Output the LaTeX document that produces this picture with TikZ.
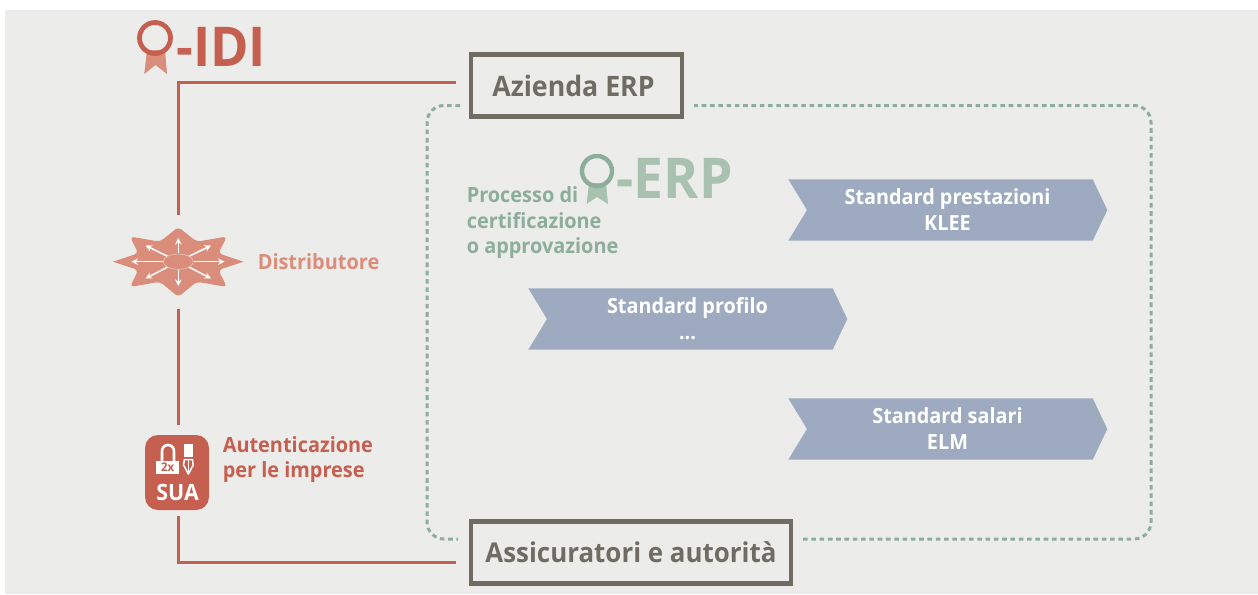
\documentclass[tikz,border=0pt]{standalone}
\usepackage{fontspec}
\setmainfont[FakeStretch=0.95]{Open Sans}
\usetikzlibrary{positioning}
\definecolor{bgGrey}{HTML}{ECECEA}
\definecolor{idiRed}{HTML}{C55F50}
\definecolor{idiLight}{HTML}{DB8D7B}
\definecolor{erpGreen}{HTML}{8CAE9A}
\definecolor{erpLight}{HTML}{A9C1AF}
\definecolor{boxGrey}{HTML}{6F6D63}
\definecolor{stdBlue}{HTML}{9DAABF}
\newcommand{\stddots}{...}
\tikzset{
  idiline/.style={idiRed, line width=3.3*0.711pt},
  erpframe/.style={erpGreen, line width=3*0.711pt, dash pattern=on 4.6*0.711pt off 3.7*0.711pt, rounded corners=17*0.025cm},
  actorbox/.style={draw=boxGrey, line width=4.6*0.711pt, inner sep=0pt, text=boxGrey},
  lbl/.style={inner sep=0pt, anchor=base west, align=left, font=\bfseries\fontsize{14.9pt}{18pt}\selectfont},
  stdtext/.style={inner sep=0pt, align=center, text=white, font=\bfseries\fontsize{14.85pt}{18pt}\selectfont},
  logotext/.style={inner sep=0pt, anchor=west},
  fan/.style={white, line width=1.5*0.711pt, -stealth},
}
\begin{document}
\begin{tikzpicture}[x=0.025cm, y=-0.025cm]
  \useasboundingbox (0,0) rectangle (1258,594);
  \fill[white] (0,0) rectangle (1258,594);
  \fill[bgGrey] (5,10) rectangle (1258,594);

  % boxes
  \node[actorbox, minimum width=211*0.025cm, minimum height=62*0.025cm, font=\bfseries\fontsize{20pt}{20pt}\selectfont] (azienda) at (576.5,85.5) {Azienda ERP\hspace*{0.15cm}};
  \node[actorbox, minimum width=320*0.025cm, minimum height=62*0.025cm, font=\bfseries\fontsize{19.4pt}{20pt}\selectfont] (assicuratori) at (631,552.5) {\raisebox{-1.2pt}{Assicuratori e autorità}};

  % dotted frame
  \draw[erpframe] (460,105.5) -- (427,105.5) -- (427,539) -- (458,539);
  \draw[erpframe] (803,539) -- (1151,539) -- (1151,105.5) -- (694,105.5);

  % IDI logo
  \fill[idiLight] (147,50) -- (165,50) -- (167,74) -- (155.5,65) -- (144.3,74) -- cycle;
  \draw[idiRed, line width=4.8*0.711pt] (155,38) circle (15.5);
  \node[logotext, text=idiRed, font=\bfseries\fontsize{39pt}{39pt}\selectfont] (idi) at (176,46.5) {-IDI};

  % ERP logo
  \fill[erpLight] (589,183) -- (606,183) -- (608,204) -- (597,197) -- (586.7,204) -- cycle;
  \draw[erpGreen, line width=4.4*0.711pt] (597,171) circle (15);
  \node[logotext, text=erpLight, font=\bfseries\fontsize{40pt}{40pt}\selectfont] (erp) at (616.5,178.5) {-ERP};
  \node[lbl, text=erpGreen] (processo) at (466.5,202.3) {Processo di};
  \node[lbl, text=erpGreen] (certificazione) at (466.5,228.3) {certificazione};
  \node[lbl, text=erpGreen] (approvazione) at (466.5,253.3) {o approvazione};

  % standards
  \foreach \dx/\dy/\name/\first/\second in {0/0/prestazioni/Standard prestazioni/KLEE, -260/109/profilo/Standard profilo/\stddots, 0/219/salari/Standard salari/ELM} {
    \fill[stdBlue] (788.3+\dx,179.3+\dy) -- ++(304.4,0) -- ++(14.6,30.7) -- ++(-14.6,30.7) -- ++(-304.4,0) -- ++(18.7,-30.7) -- cycle;
    \node[stdtext] (\name) at (947.5+\dx,209.5+\dy) {\first\\[0.1pt]\second};
  }

  % distributor star
  \node[inner sep=0pt, minimum width=130*0.025cm, minimum height=94*0.025cm] (star) at (178.5,262) {};
  \fill[idiLight, rounded corners=4*0.711pt] (243.5,261.7) -- (218.3,270) -- (227,287) -- (196.7,281.7) -- (178.3,297) -- (160,281.7) -- (130,287) -- (138.3,270) [sharp corners] -- (113,261.7) [rounded corners=4*0.711pt] -- (138.3,253.3) -- (130,236.5) -- (160,241.7) -- (178.3,227) -- (196.7,241.7) -- (227,236.5) -- (218.3,253.3) [sharp corners] -- cycle;
  \foreach \xa/\ya/\xb/\yb in {178.3/253/178.3/238, 178.3/270/178.3/286, 193.5/261.7/224.5/261.7, 163/261.7/131.5/261.7, 188.3/256.7/211/245.5, 168.3/256.7/145.5/245.5, 188.3/266.7/211/278.5, 168.3/266.7/145.5/278.5}
    \draw[fan] (\xa,\ya) -- (\xb,\yb);
  \draw[bgGrey!60!idiLight, line width=0.4pt, fill=idiLight] (178.3,261.7) ellipse (15 and 7.6);
  \node[lbl, text=idiLight] (distributore) at (257.5,269.3) {Distributore};

  % SUA icon
  \node[fill=idiRed, rounded corners=13*0.025cm, inner sep=0pt, minimum width=64*0.025cm, minimum height=75*0.025cm] (sua) at (177,472.5) {};
  \node[inner sep=0pt, text=white, font=\bfseries\fontsize{16pt}{16pt}\selectfont] (suatext) at (177.5,492) {SUA};
  \fill[white] (156.3,461.3) rectangle (179,473.7);
  \draw[white, line width=2.6*0.711pt] (162,462) -- (162,451) arc[start angle=180, end angle=360, radius=6] -- (174,462);
  \node[inner sep=0pt, text=idiRed, font=\bfseries\fontsize{8.5pt}{8.5pt}\selectfont] (zweix) at (167.7,467.5) {2x};
  \fill[white] (183.7,443.7) rectangle (193,457);
  \draw[white, line width=1.5*0.711pt, line join=round] (184.3,459.7) -- (192.5,459.7) -- (193.2,465) -- (188.4,474) -- (183.6,465) -- cycle;
  \draw[white, line width=1*0.711pt] (188.4,460) -- (188.4,473);
  \node[lbl, text=idiRed] (autenticazione) at (222.5,452.7) {Autenticazione};
  \node[lbl, text=idiRed] (imprese) at (222.5,477.3) {per le imprese};

  % connectors
  \draw[idiline, shorten <=12.5*0.711pt] ([yshift=3*0.025cm]azienda.west) -| (star.north);
  \draw[idiline, shorten >=10*0.711pt] (star.south) -- (star.south |- sua.north);
  \draw[idiline, shorten <=6*0.711pt, shorten >=12.5*0.711pt] (sua.south -| star.south) |- ([yshift=-10*0.025cm]assicuratori.west);
\end{tikzpicture}
\end{document}
